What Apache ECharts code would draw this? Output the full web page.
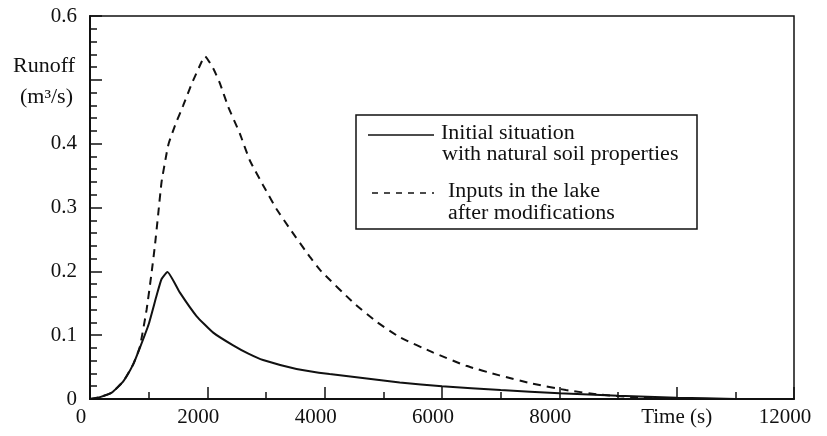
<!DOCTYPE html>
<html>
<head>
<meta charset="utf-8">
<script src="https://cdn.jsdelivr.net/npm/echarts@6/dist/echarts.min.js"></script>
<style>
html,body{margin:0;padding:0;background:#fff;}
#c{width:827px;height:436px;}
</style>
</head>
<body>
<div id="c"></div>
<script>
// Data (time in s, runoff in m3/s)
const timeInitial   = [0, 170, 370, 570, 740, 850, 1000, 1135, 1220, 1320, 1530, 1815, 2100, 2440, 2700, 2950, 3520, 4085, 5280, 6000, 7000, 8000, 9000, 10000, 11000];
const runoffInitial = [0, 0.003, 0.010, 0.028, 0.055, 0.080, 0.117, 0.162, 0.188, 0.199, 0.167, 0.130, 0.104, 0.084, 0.071, 0.061, 0.047, 0.039, 0.026, 0.020, 0.014, 0.009, 0.005, 0.002, 0];
const timeLake      = [0, 170, 370, 570, 740, 850, 965, 1050, 1106, 1163, 1220, 1306, 1340, 1447, 1589, 1730, 1901, 1960, 2099, 2213, 2355, 2553, 2723, 2950, 3177, 3404, 3745, 3943, 4500, 4900, 5277, 5844, 6411, 6979, 7546, 8113, 8681, 9248, 9815, 10500];
const runoffLake    = [0, 0.003, 0.010, 0.028, 0.055, 0.082, 0.140, 0.198, 0.240, 0.290, 0.340, 0.385, 0.400, 0.428, 0.460, 0.493, 0.528, 0.537, 0.518, 0.495, 0.458, 0.416, 0.374, 0.335, 0.298, 0.267, 0.223, 0.200, 0.150, 0.120, 0.097, 0.073, 0.052, 0.037, 0.024, 0.014, 0.007, 0.003, 0.001, 0];
const xTickLabels = {0:'0', 2000:'2000', 4000:'4000', 6000:'6000', 8000:'8000', 10000:'Time (s)', 12000:'12000'};
const yTickLabels = {0:'0', 1:'0.1', 2:'0.2', 3:'0.3', 4:'0.4', 5:'', 6:'0.6'};
const seriesNames = ['Initial situation\nwith natural soil properties', 'Inputs in the lake\nafter modifications'];
const legendLines = [['Initial situation', 'with natural soil properties'], ['Inputs in the lake', 'after modifications']];
const yTitle = ['Runoff', '(m³/s)'];

const FONT = 'Liberation Serif';
const INK = '#111';
const zip = (a, b) => a.map((t, i) => [t, b[i]]);

const chart = echarts.init(document.getElementById('c'), null, {renderer: 'canvas'});
const txt = (text, x, y, align) => ({
  type: 'text', x: x, y: y, scaleX: 1.1,
  style: {text: text, fill: INK, font: '20px "' + FONT + '"', align: align || 'left', verticalAlign: 'middle'}
});

chart.setOption({
  backgroundColor: '#fff',
  animation: false,
  grid: {left: 90, right: 33, top: 16, bottom: 37, show: true, borderColor: INK, borderWidth: 1.5, backgroundColor: 'transparent'},
  xAxis: {
    type: 'value', min: 0, max: 12000, interval: 2000,
    axisLine: {show: true, onZero: false, lineStyle: {color: INK, width: 2}},
    axisTick: {show: true, inside: true, length: 12, lineStyle: {color: INK, width: 1.5}},
    minorTick: {show: true, splitNumber: 2, length: 7, lineStyle: {color: INK, width: 1.5}},
    splitLine: {show: false},
    axisLabel: {
      margin: 8, color: INK, fontFamily: FONT, fontSize: 21, showMaxLabel: true, showMinLabel: true,
      formatter: v => v === 10000 ? '{t|' + xTickLabels[v] + '}' : '{n|' + xTickLabels[v] + '}',
      rich: {
        n: {fontFamily: FONT, fontSize: 21, color: INK, padding: [0, 18, 0, 0]},
        t: {fontFamily: FONT, fontSize: 21, color: INK}
      }
    }
  },
  yAxis: {
    type: 'value', min: 0, max: 0.6, interval: 0.1,
    axisLine: {show: true, onZero: false, lineStyle: {color: INK, width: 2}},
    axisTick: {show: true, inside: true, length: 12, lineStyle: {color: INK, width: 1.5}},
    minorTick: {show: true, splitNumber: 5, length: 7, lineStyle: {color: INK, width: 1.5}},
    splitLine: {show: false},
    axisLabel: {
      margin: 13, color: INK, fontFamily: FONT, fontSize: 21, showMaxLabel: true,
      formatter: v => yTickLabels[Math.round(v * 10)]
    }
  },
  series: [
    {name: seriesNames[0], type: 'line', data: zip(timeInitial, runoffInitial), showSymbol: false,
     smooth: 0.15, lineStyle: {color: INK, width: 2}},
    {name: seriesNames[1], type: 'line', data: zip(timeLake, runoffLake), showSymbol: false,
     smooth: 0.15, lineStyle: {color: INK, width: 2, type: [8, 6]}}
  ],
  graphic: [
    txt(yTitle[0], 75, 67, 'right'),
    txt(yTitle[1], 73, 98, 'right'),
    {type: 'rect', shape: {x: 356, y: 115, width: 341, height: 114}, style: {fill: '#fff', stroke: INK, lineWidth: 1.5}},
    {type: 'line', shape: {x1: 368, y1: 135, x2: 434, y2: 135}, style: {stroke: INK, lineWidth: 1.5}},
    {type: 'line', shape: {x1: 372, y1: 193, x2: 434, y2: 193}, style: {stroke: INK, lineWidth: 1.5, lineDash: [6, 6]}},
    txt(legendLines[0][0], 441, 134),
    txt(legendLines[0][1], 442, 155),
    txt(legendLines[1][0], 448, 192),
    txt(legendLines[1][1], 448, 214)
  ]
});
</script>
</body>
</html>
